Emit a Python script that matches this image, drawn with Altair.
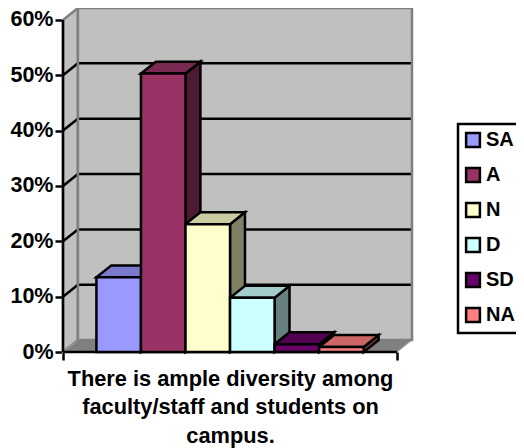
import altair as alt
import pandas as pd

categories = ["SA", "A", "N", "D", "SD", "NA"]
values = [13.5, 50.3, 23.1, 9.8, 1.4, 0.9]
front_colors = ["#9999ff", "#993366", "#ffffcc", "#ccffff", "#660066", "#ff8080"]
top_colors = ["#7a7acc", "#7a2952", "#cccca3", "#a3cccc", "#520052", "#cc6666"]
side_colors = ["#4d4d80", "#4d1a33", "#808066", "#668080", "#330033", "#804040"]
y_ticks = [0, 10, 20, 30, 40, 50, 60]
grid_values = [10, 20, 30, 40, 50]
title_lines = ["There is ample diversity among", "faculty/staff and students on", "campus."]

FONT = "Liberation Sans"
GAP = 0.75      # space either side of the bars, in bar widths
DX = 0.335      # depth offset in bar widths
DY = 2.15       # depth offset in percent points
N = len(categories)
X_END = GAP * 2 + N
Y_MAX = 60
LW = 2.5

xs = alt.Scale(domain=[0, X_END + DX], nice=False, zero=False)
ys = alt.Scale(domain=[0, Y_MAX + DY], nice=False, zero=False)

X = lambda f="x", **k: alt.X(f"{f}:Q", scale=xs, axis=None, title=None, **k)
Y = lambda f="y", **k: alt.Y(f"{f}:Q", scale=ys, axis=None, title=None, **k)
X2 = alt.X2("x2:Q")
Y2 = alt.Y2("y2:Q")

# walls and floor
side_wall = pd.DataFrame({"x": [0, DX], "y": [Y_MAX, Y_MAX + DY], "y2": [0, DY]})
back_wall = pd.DataFrame({"x": [DX], "x2": [X_END + DX], "y": [DY], "y2": [Y_MAX + DY]})
floor = pd.DataFrame({"y": [0, DY], "x": [0, DX], "x2": [X_END, X_END + DX]})

wall_fill = "#c0c0c0"
wall_line = "#808080"

l_side = alt.Chart(side_wall).mark_area(orient="vertical", fill=wall_fill, stroke=wall_line, strokeWidth=LW).encode(
    x=X(), y=Y(), y2=Y2)
l_back = alt.Chart(back_wall).mark_rect(fill=wall_fill).encode(x=X(), x2=X2, y=Y(), y2=Y2)
l_floor = alt.Chart(floor).mark_area(orient="horizontal", fill="#808080", stroke="#a6a6a6", strokeWidth=1).encode(
    y=Y(), x=X(), x2=X2)

# gridlines
grid_back = pd.DataFrame({"x": DX, "x2": X_END + DX, "y": [v + DY for v in grid_values]})
l_grid_back = alt.Chart(grid_back).mark_rule(color="black", strokeWidth=LW).encode(x=X(), x2=X2, y=Y())
grid_side = pd.DataFrame(
    [{"g": v, "x": 0, "y": v} for v in grid_values] + [{"g": v, "x": DX, "y": v + DY} for v in grid_values]
)
l_grid_side = alt.Chart(grid_side).mark_line(color="black", strokeWidth=LW).encode(x=X(), y=Y(), detail="g:N")
l_back_line = alt.Chart(back_wall).mark_rect(fillOpacity=0, stroke=wall_line, strokeWidth=LW).encode(
    x=X(), x2=X2, y=Y(), y2=Y2)

# bars
sides, tops, fronts = [], [], []
for i, (c, v) in enumerate(zip(categories, values)):
    x0, x1 = GAP + i, GAP + i + 1
    sides += [{"c": c, "x": x1, "y": v, "y2": 0}, {"c": c, "x": x1 + DX, "y": v + DY, "y2": DY}]
    tops += [{"c": c, "y": v, "x": x0, "x2": x1}, {"c": c, "y": v + DY, "x": x0 + DX, "x2": x1 + DX}]
    fronts.append({"c": c, "x": x0, "x2": x1, "y": v, "y2": 0})

l_sides = alt.Chart(pd.DataFrame(sides)).mark_area(orient="vertical", stroke="black", strokeWidth=LW).encode(
    x=X(), y=Y(), y2=Y2,
    fill=alt.Fill("c:N", scale=alt.Scale(domain=categories, range=side_colors), legend=None))
l_tops = alt.Chart(pd.DataFrame(tops)).mark_area(orient="horizontal", stroke="black", strokeWidth=LW).encode(
    y=Y(), x=X(), x2=X2,
    color=alt.Color("c:N", scale=alt.Scale(domain=categories, range=top_colors), legend=None),
    stroke=alt.value("black"))
l_fronts = alt.Chart(pd.DataFrame(fronts)).mark_rect(stroke="black", strokeWidth=LW).encode(
    x=X(), x2=X2, y=Y(), y2=Y2,
    fill=alt.Fill(
        "c:N",
        sort=categories,
        scale=alt.Scale(domain=categories, range=front_colors),
        legend=alt.Legend(
            title=None, orient="none", legendX=395, legendY=116,
            symbolType="square", symbolSize=190, symbolStrokeColor="black", symbolStrokeWidth=LW,
            labelFont=FONT, labelFontWeight="bold", labelFontSize=20, labelColor="black",
            rowPadding=11, padding=6, strokeColor="black", fillColor="white", labelOffset=3,
            symbolOffset=-1,
        ),
    ),
)

# axes
axis_common = dict(tickColor="black", tickWidth=LW, tickSize=8, domain=False, grid=False)
y_axis = alt.Chart(pd.DataFrame({"x": [0], "y": [0], "y2": [Y_MAX]})).mark_rule(color="black", strokeWidth=LW).encode(
    x=alt.X("x:Q", scale=xs, axis=alt.Axis(
        values=[0, X_END], labels=False, title=title_lines, titleFont=FONT, titleFontSize=21.8,
        titleFontWeight="bold", titleColor="black", titleLineHeight=28.5, titleX=167, titleY=16,
        titleAlign="center", titleBaseline="top", **axis_common)),
    y=alt.Y("y:Q", scale=ys, axis=alt.Axis(
        values=y_ticks, labelExpr="datum.value + '%'", title=None, labelFont=FONT, labelFontSize=21.5,
        labelFontWeight="bold", labelColor="black", labelPadding=2, **axis_common)),
    y2=Y2)
x_base = alt.Chart(pd.DataFrame({"x": [0], "x2": [X_END], "y": [0]})).mark_rule(color="black", strokeWidth=LW).encode(
    x=X(), x2=X2, y=Y())

chart = alt.layer(
    l_side, l_back, l_floor, l_grid_side, l_grid_back, l_back_line,
    x_base, y_axis, l_sides, l_tops, l_fronts,
).resolve_scale(color="independent", fill="independent").resolve_axis(x="independent", y="independent").properties(
    width=349, height=344,
    padding={"left": 55, "top": 0, "right": 104, "bottom": 96},
    autosize=alt.AutoSizeParams(type="none"),
    background="white",
).configure_view(stroke=None).configure_legend(strokeWidth=LW)

chart.save("out.html", embed_options={"renderer": "svg", "actions": False})
